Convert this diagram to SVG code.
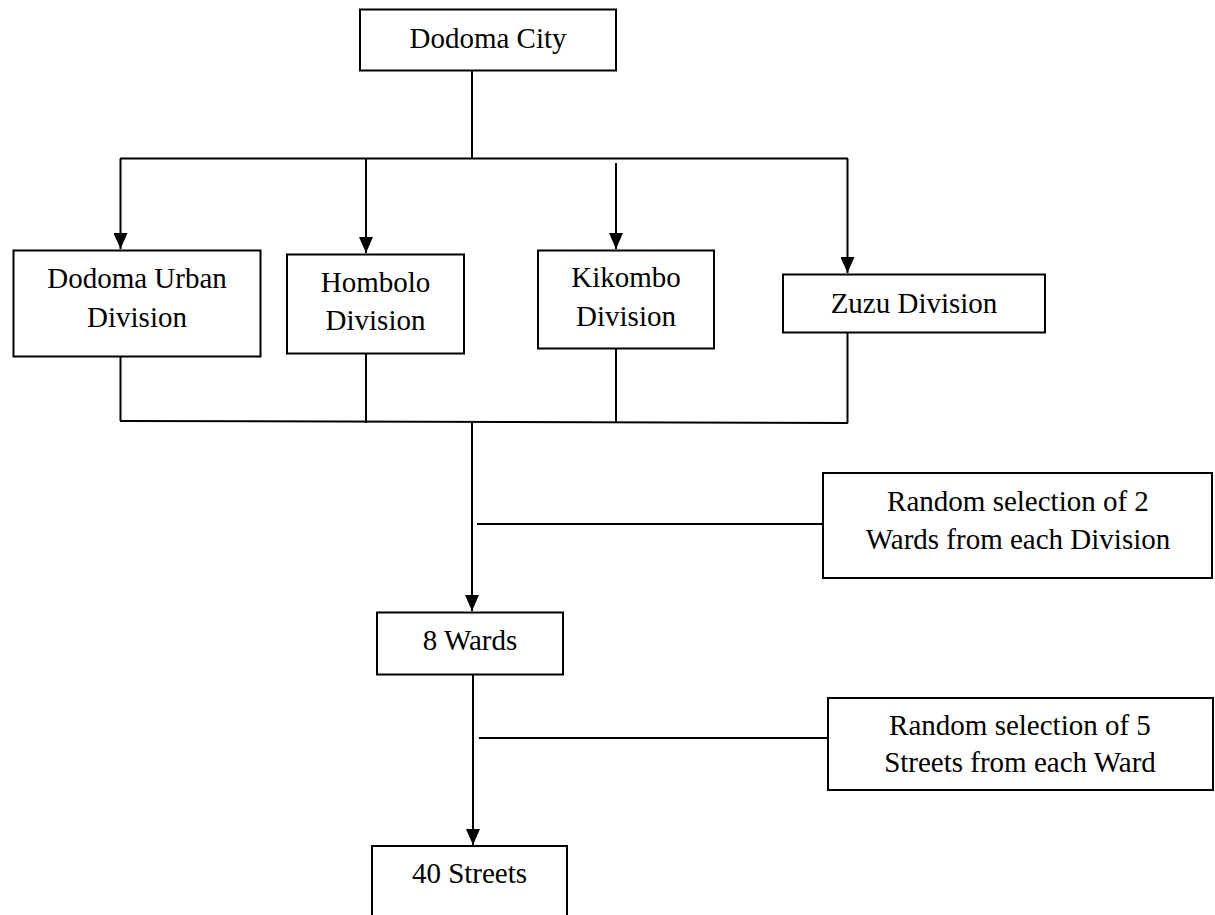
<svg xmlns="http://www.w3.org/2000/svg" width="1215" height="915" viewBox="0 0 1215 915">
<style>
  .box { fill: #ffffff; stroke: #000000; stroke-width: 2; }
  .ln { fill: none; stroke: #000000; stroke-width: 2; }
  .arr { fill: none; stroke: #000000; stroke-width: 2; marker-end: url(#ah); }
  text { font-family: "Liberation Serif", "Times New Roman", serif; font-size: 29px; fill: #000000; text-anchor: middle; }
</style>
<defs>
  <marker id="ah" markerUnits="userSpaceOnUse" markerWidth="16" markerHeight="14" viewBox="0 0 16 14" refX="16" refY="7" orient="auto">
    <path d="M0,0 L16,7 L0,14 Z" fill="#000000"/>
  </marker>
</defs>
<rect width="1215" height="915" fill="#ffffff"/>
<g id="connectors">
  <line class="ln" x1="472" y1="71" x2="472" y2="158.5"/>
  <line class="ln" x1="120" y1="158.5" x2="848" y2="158.5"/>
  <line class="arr" x1="120.5" y1="158.5" x2="120.5" y2="249"/>
  <line class="arr" x1="366" y1="158.5" x2="366" y2="253"/>
  <line class="arr" x1="616" y1="163" x2="616" y2="249"/>
  <line class="arr" x1="847.5" y1="158.5" x2="847.5" y2="273"/>
  <line class="ln" x1="120.5" y1="357" x2="120.5" y2="421"/>
  <line class="ln" x1="366" y1="354" x2="366" y2="423"/>
  <line class="ln" x1="616" y1="349" x2="616" y2="423"/>
  <line class="ln" x1="847.5" y1="333" x2="847.5" y2="423"/>
  <line class="ln" x1="120" y1="421" x2="848" y2="423"/>
  <line class="arr" x1="472" y1="423" x2="472" y2="611"/>
  <line class="ln" x1="477" y1="524" x2="823" y2="524"/>
  <line class="arr" x1="473" y1="675" x2="473" y2="845"/>
  <line class="ln" x1="479" y1="738" x2="828" y2="738"/>
</g>
<g id="node-dodoma-city">
  <rect class="box" x="360" y="9.5" width="256" height="61"/>
  <text x="488" y="48">Dodoma City</text>
</g>
<g id="node-dodoma-urban">
  <rect class="box" x="13.5" y="250.5" width="247" height="106"/>
  <text x="137" y="288">Dodoma Urban</text>
  <text x="137" y="327">Division</text>
</g>
<g id="node-hombolo">
  <rect class="box" x="287" y="254.5" width="177" height="99"/>
  <text x="375.5" y="292">Hombolo</text>
  <text x="375.5" y="330">Division</text>
</g>
<g id="node-kikombo">
  <rect class="box" x="538" y="250.5" width="176" height="98"/>
  <text x="626" y="287">Kikombo</text>
  <text x="626" y="326">Division</text>
</g>
<g id="node-zuzu">
  <rect class="box" x="783" y="274.5" width="262" height="58"/>
  <text x="914" y="313">Zuzu Division</text>
</g>
<g id="node-random-2">
  <rect class="box" x="823" y="473" width="389" height="105"/>
  <text x="1018" y="511">Random selection of 2</text>
  <text x="1018" y="549">Wards from each Division</text>
</g>
<g id="node-8-wards">
  <rect class="box" x="377" y="612.5" width="186" height="62"/>
  <text x="470" y="650">8 Wards</text>
</g>
<g id="node-random-5">
  <rect class="box" x="828" y="698" width="385" height="92"/>
  <text x="1020" y="735">Random selection of 5</text>
  <text x="1020" y="772">Streets from each Ward</text>
</g>
<g id="node-40-streets">
  <rect class="box" x="372" y="846" width="195" height="80"/>
  <text x="469.5" y="883">40 Streets</text>
</g>
</svg>
